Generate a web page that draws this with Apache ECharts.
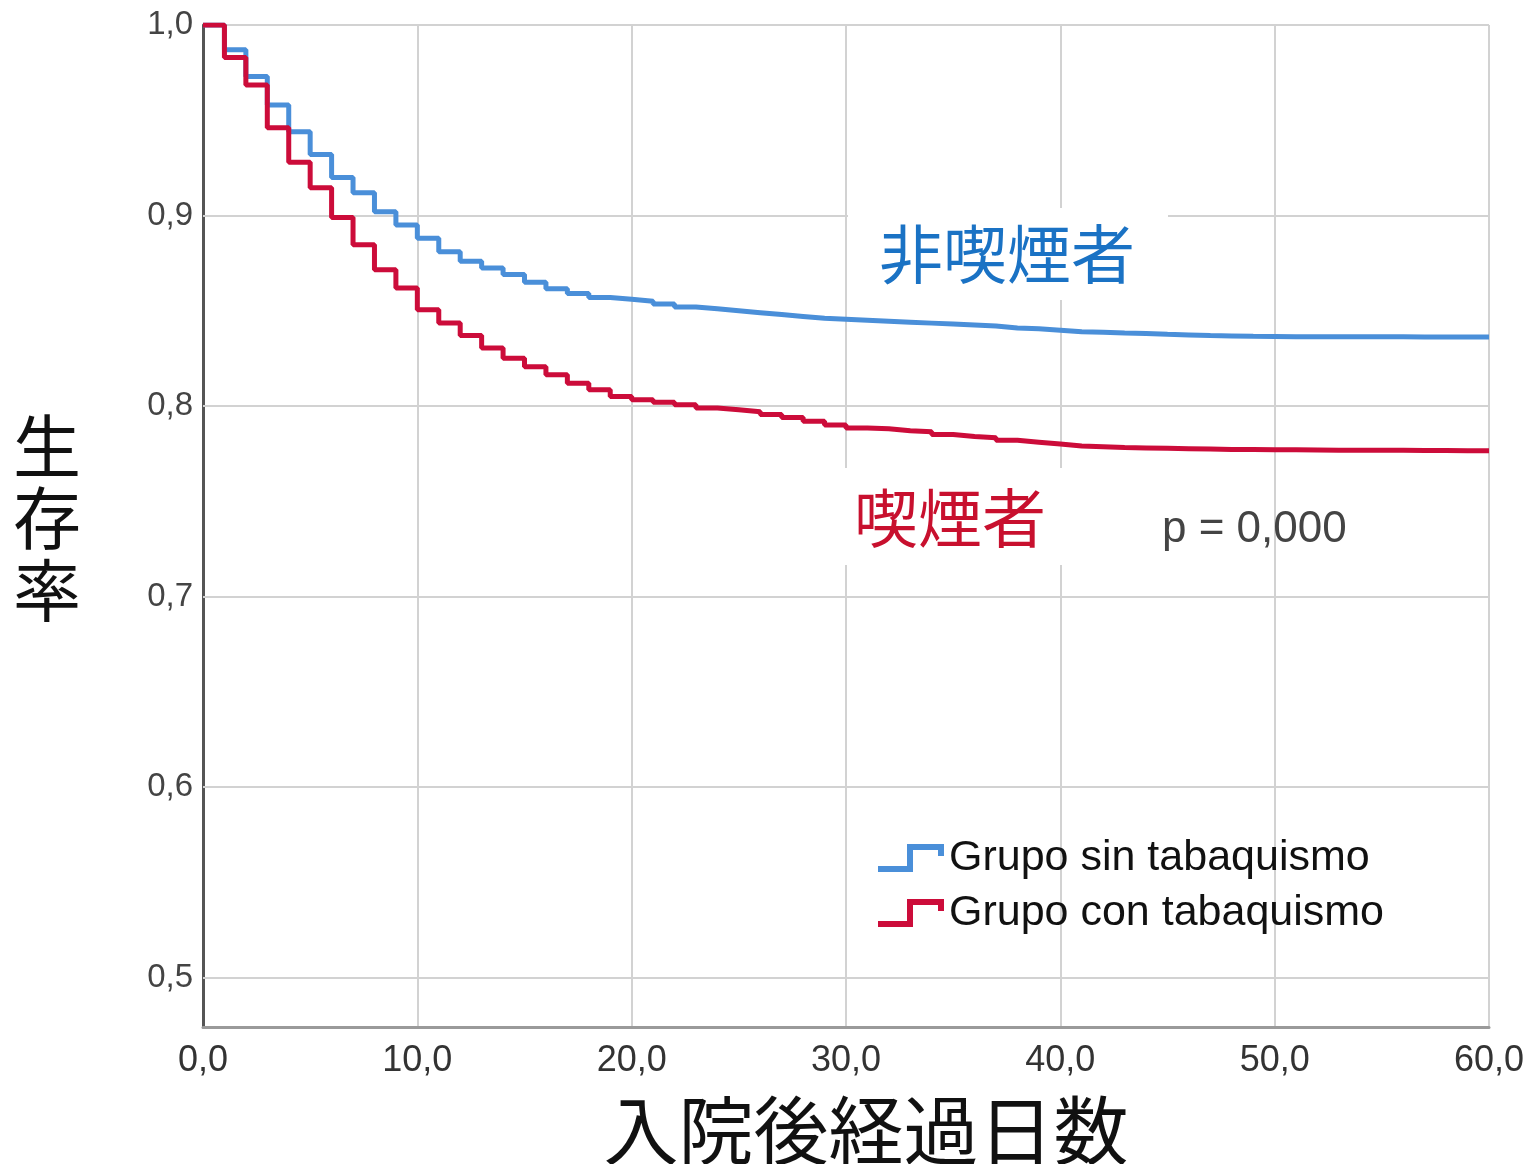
<!DOCTYPE html>
<html>
<head>
<meta charset="utf-8">
<script src="https://cdn.jsdelivr.net/npm/echarts@6/dist/echarts.min.js"></script>
<style>
  html, body { margin: 0; padding: 0; background: #fff; }
  #chart { width: 1525px; height: 1164px; }
</style>
</head>
<body>
<div id="chart"></div>
<script>
// days after admission (0..60)
const days = [];
for (let d = 0; d <= 60; d++) days.push(d);

// survival, non-smokers
const survNonSmoker = [
  1.000, 0.987, 0.973, 0.958, 0.944, 0.932, 0.920, 0.912, 0.902, 0.895,
  0.888, 0.881, 0.876, 0.8725, 0.869, 0.865, 0.8615, 0.859, 0.857, 0.856,
  0.855, 0.8535, 0.852, 0.851, 0.850, 0.849, 0.848, 0.847, 0.846, 0.8455,
  0.845, 0.8445, 0.844, 0.8435, 0.843, 0.8425, 0.842, 0.841, 0.8405, 0.8398,
  0.839, 0.8387, 0.8383, 0.838, 0.8376, 0.8373, 0.837, 0.8368, 0.8366, 0.8365,
  0.8364, 0.8364, 0.8363, 0.8363, 0.8363, 0.8363, 0.8362, 0.8362, 0.8362, 0.8362,
  0.8362
];

// survival, smokers
const survSmoker = [
  1.000, 0.983, 0.9685, 0.946, 0.928, 0.9145, 0.899, 0.8846, 0.8715, 0.862,
  0.8505, 0.8436, 0.837, 0.8305, 0.825, 0.8206, 0.8164, 0.812, 0.8085, 0.805,
  0.8033, 0.802, 0.8006, 0.799, 0.798, 0.797, 0.7955, 0.794, 0.792, 0.790,
  0.7885, 0.788, 0.787, 0.7865, 0.785, 0.784, 0.7833, 0.782, 0.781, 0.780,
  0.779, 0.7786, 0.7782, 0.778, 0.7778, 0.7776, 0.7774, 0.7772, 0.7771, 0.777,
  0.777, 0.7769, 0.7768, 0.7768, 0.7767, 0.7767, 0.7766, 0.7766, 0.7765, 0.7765,
  0.7765
];

const yTicks = [0.5, 0.6, 0.7, 0.8, 0.9, 1.0];
const seriesNames = ['Grupo sin tabaquismo', 'Grupo con tabaquismo'];

const BLUE = '#4a8fd9';
const RED = '#cc0c3a';
const stepIcon = 'path://M0,22 L29,22 L29,0 L66,0 L66,12 L60,12 L60,6 L35,6 L35,28 L0,28 Z';

const chart = echarts.init(document.getElementById('chart'));

chart.setOption({
  backgroundColor: '#ffffff',
  animation: false,
  grid: { left: 203, right: 36, top: 25, bottom: 137, outerBoundsMode: 'none' },
  xAxis: {
    type: 'value',
    min: 0,
    max: 60,
    interval: 10,
    axisLine: { lineStyle: { color: '#9a9a9a', width: 3 } },
    axisTick: { show: false },
    axisLabel: {
      margin: 16,
      color: '#333',
      fontFamily: 'Liberation Sans Narrow, Liberation Sans, sans-serif',
      fontSize: 36,
      formatter: v => v.toFixed(1).replace('.', ',')
    },
    splitLine: { show: true, lineStyle: { color: '#d2d2d2', width: 2 } }
  },
  yAxis: {
    type: 'value',
    min: 0.474,
    max: 1.0,
    axisLine: { show: true, lineStyle: { color: '#555', width: 3 } },
    axisTick: { show: false },
    splitLine: { show: false },
    axisLabel: {
      customValues: yTicks,
      margin: 10,
      color: '#444',
      fontFamily: 'Liberation Sans, Arial, sans-serif',
      fontSize: 33,
      formatter: v => v.toFixed(1).replace('.', ',')
    }
  },
  legend: {
    orient: 'vertical',
    left: 873,
    top: 830,
    itemWidth: 66,
    itemHeight: 28,
    itemGap: 9,
    icon: stepIcon,
    textStyle: {
      color: '#111',
      fontFamily: 'Liberation Sans, Arial, sans-serif',
      fontSize: 43,
      lineHeight: 46
    },
    data: [
      { name: seriesNames[0], itemStyle: { color: BLUE, borderWidth: 0 } },
      { name: seriesNames[1], itemStyle: { color: RED, borderWidth: 0 } }
    ]
  },
  series: [
    {
      // horizontal gridlines, kept under the curves
      type: 'line',
      data: [],
      silent: true,
      z: 1,
      markLine: {
        z: 1,
        silent: true,
        symbol: 'none',
        label: { show: false },
        lineStyle: { color: '#d2d2d2', width: 2, type: 'solid' },
        data: yTicks.map(v => ({ yAxis: v }))
      }
    },
    {
      name: seriesNames[0],
      type: 'line',
      step: 'end',
      symbol: 'none',
      z: 3,
      color: BLUE,
      lineStyle: { color: BLUE, width: 5 },
      data: days.map((d, i) => [d, survNonSmoker[i]])
    },
    {
      name: seriesNames[1],
      type: 'line',
      step: 'end',
      symbol: 'none',
      z: 4,
      color: RED,
      lineStyle: { color: RED, width: 5 },
      data: days.map((d, i) => [d, survSmoker[i]])
    }
  ],
  graphic: [
    {
      type: 'rect',
      z: 10,
      shape: { x: 848, y: 208, width: 320, height: 92 },
      style: { fill: '#ffffff' }
    },
    {
      type: 'text',
      z: 11,
      x: 879, y: 254,
      style: {
        text: '非喫煙者',
        fill: '#1a72c4',
        font: '64px "Noto Sans CJK JP", sans-serif',
        verticalAlign: 'middle'
      }
    },
    {
      type: 'rect',
      z: 10,
      shape: { x: 845, y: 468, width: 217, height: 97 },
      style: { fill: '#ffffff' }
    },
    {
      type: 'text',
      z: 11,
      x: 854, y: 518,
      style: {
        text: '喫煙者',
        fill: '#c8102e',
        font: '64px "Noto Sans CJK JP", sans-serif',
        verticalAlign: 'middle'
      }
    },
    {
      type: 'text',
      z: 11,
      x: 1162, y: 530,
      style: {
        text: 'p = 0,000',
        fill: '#444',
        font: '44px "Liberation Sans", Arial, sans-serif',
        verticalAlign: 'middle'
      }
    },
    {
      type: 'text',
      z: 11,
      x: 47, y: 518,
      style: {
        text: '生\n存\n率',
        fill: '#111',
        font: '68px "Noto Sans CJK JP", sans-serif',
        lineHeight: 72,
        align: 'center',
        verticalAlign: 'middle'
      }
    },
    {
      type: 'text',
      z: 11,
      x: 866, y: 1130,
      style: {
        text: '入院後経過日数',
        fill: '#111',
        font: '75px "Noto Sans CJK JP", sans-serif',
        align: 'center',
        verticalAlign: 'middle'
      }
    }
  ]
});
</script>
</body>
</html>
